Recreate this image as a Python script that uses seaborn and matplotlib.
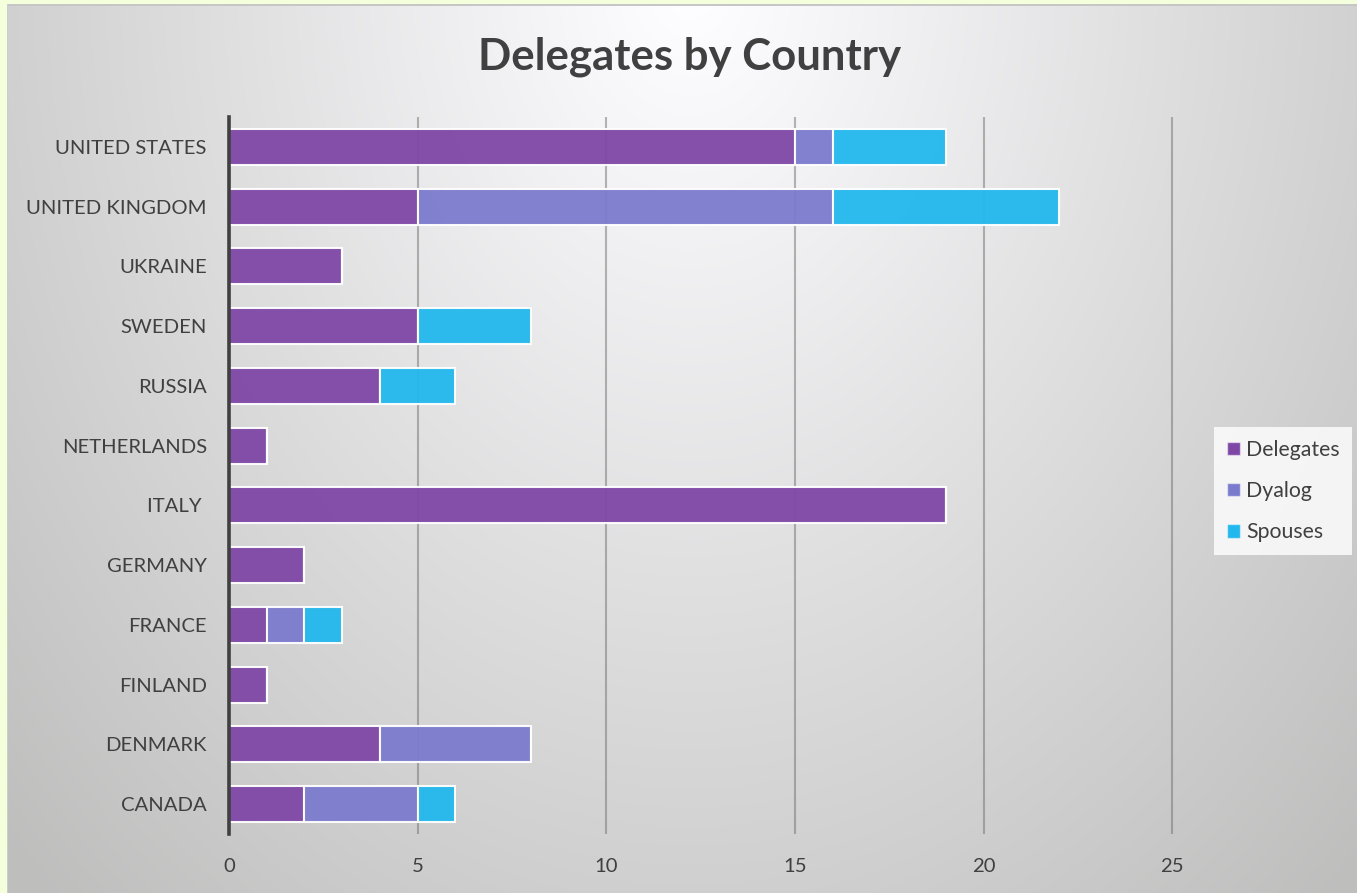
import numpy as np
import pandas as pd
import matplotlib
matplotlib.use("Agg")
import matplotlib.pyplot as plt
import seaborn as sns
from matplotlib.patches import Patch

countries = ["UNITED STATES", "UNITED KINGDOM", "UKRAINE", "SWEDEN", "RUSSIA",
             "NETHERLANDS", "ITALY ", "GERMANY", "FRANCE", "FINLAND", "DENMARK", "CANADA"]
delegates = [15, 5, 3, 5, 4, 1, 19, 2, 1, 1, 4, 2]
dyalog    = [1, 11, 0, 0, 0, 0, 0, 0, 1, 0, 4, 3]
spouses   = [3, 6, 0, 3, 2, 0, 0, 0, 1, 0, 0, 1]
series_names = ["Delegates", "Dyalog", "Spouses"]
colors = ["#7e47a6", "#7b7bce", "#22b8ed"]
xticks = [0, 5, 10, 15, 20, 25]

sns.set_theme(style="white")
plt.rcParams["font.family"] = ["Lato", "DejaVu Sans"]

W, H = 1357, 893
fig = plt.figure(figsize=(W / 100, H / 100), dpi=100)

# background gradient with pale yellow frame
yy, xx = np.mgrid[0:H, 0:W]
d = np.sqrt(((xx - 690) / 760.0) ** 2 + ((yy + 20) / 1000.0) ** 2)
g = np.clip(255 - 52 * d, 190, 255) / 255.0
img = np.dstack([g, g, g])
img[:, :, 2] = np.clip(img[:, :, 2] + 0.01 * (1 - d), 0, 1)
img[:, :7] = [0.96, 1.0, 0.86]
img[:4, :] = [0.96, 1.0, 0.86]
img[4:6, 7:] = [0.78, 0.78, 0.78]
img[4:, 7] = [0.80, 0.80, 0.80]
bg = fig.add_axes([0, 0, 1, 1])
bg.imshow(img, aspect="auto", extent=[0, 1, 0, 1], origin="upper", interpolation="bilinear")
bg.axis("off")

ax = fig.add_axes([229 / W, (H - 834) / H, 981 / W, 717 / H])
ax.patch.set_alpha(0)

df = pd.DataFrame({"country": countries, "Delegates": delegates,
                   "Dyalog": dyalog, "Spouses": spouses})
left = np.zeros(len(countries))
for name, col in zip(series_names, colors):
    n_before = len(ax.patches)
    sns.barplot(data=df, x=name, y="country", orient="h", color=col, width=0.6,
                ax=ax, alpha=0.95, edgecolor=(1, 1, 1, 0.35), linewidth=1.5,
                saturation=1, order=countries)
    new = ax.patches[n_before:]
    for p, l in zip(new, left):
        p.set_x(l)
    left = left + df[name].values

ax.set_xlim(0, 26)
ax.set_ylim(len(countries) - 0.5, -0.5)
ax.set_xticks(xticks)
ax.set_xlabel("")
ax.set_ylabel("")
ax.grid(axis="x", color="#707070", alpha=0.5, linewidth=1.5)
ax.grid(axis="y", visible=False)
ax.set_axisbelow(True)
for s in ["top", "right", "bottom"]:
    ax.spines[s].set_visible(False)
ax.spines["left"].set_color("#404040")
ax.spines["left"].set_linewidth(2.6)
ax.tick_params(axis="both", length=0, labelsize=14.6, labelcolor="#404040")
ax.tick_params(axis="y", pad=16)
ax.tick_params(axis="x", pad=17)

fig.text(690 / W, 1 - 57 / H, "Delegates by Country", ha="center", va="center",
         fontsize=31.5, fontweight="bold", color="#404040")

handles = [Patch(facecolor=c, edgecolor=(1, 1, 1, 0.5), linewidth=1) for c in colors]
leg = fig.legend(handles, series_names, loc="center left",
                 bbox_to_anchor=(1214 / W, 1 - 491 / H), frameon=True,
                 fontsize=15.3, handlelength=0.6, handleheight=0.6, handletextpad=0.3,
                 labelspacing=1.0, borderpad=0.6, borderaxespad=0, fancybox=False)
leg.get_frame().set_facecolor((1, 1, 1, 0.15))
leg.get_frame().set_edgecolor("none")
for t in leg.get_texts():
    t.set_color("#404040")

fig.savefig("out.png", dpi=100)
